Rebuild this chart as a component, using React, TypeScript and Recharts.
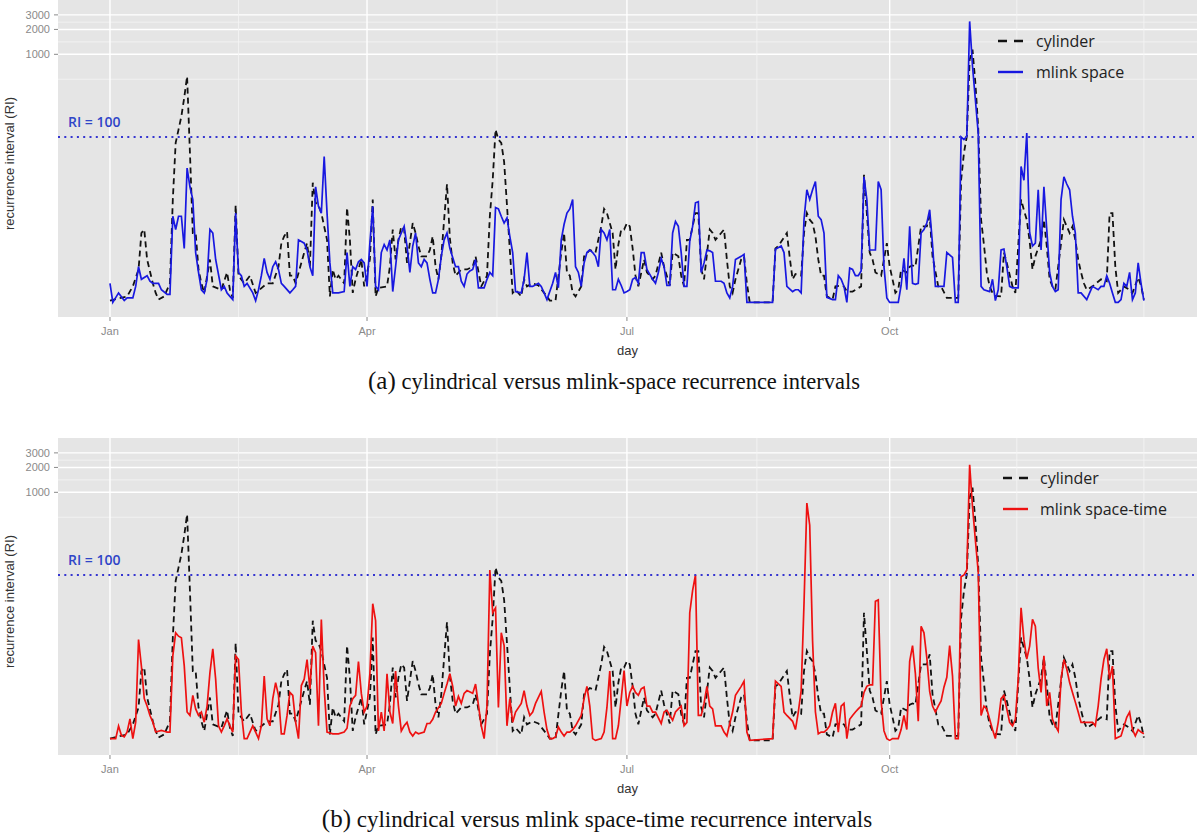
import React from 'react';
import { LineChart, Line, XAxis, YAxis, CartesianGrid, ReferenceLine, Legend } from 'recharts';

// ---------- axis ticks / labels ----------
const monthTicks = [0, 90, 181, 273];
const monthLabels = ['Jan', 'Apr', 'Jul', 'Oct'];
const dayMinorLines = [45, 135.5, 226.5, 317.5, 362];
const riTicks = [1000, 2000, 3000];
const riMinorLines = [500, 1414, 2450];
const riThreshold = 100;

// ---------- cylinder recurrence intervals (day of year, RI) ----------
const cylinderDays = [
  0, 6, 8, 10, 11, 12, 13, 15, 16, 17,
  19, 21, 22, 23, 24, 25, 26, 27, 28, 29,
  30, 31, 32, 33, 35, 36, 39, 41, 42, 43,
  44, 45, 47, 49, 51, 55, 57, 59, 60, 61,
  62, 63, 64, 65, 68, 69, 70, 71, 72, 73,
  74, 76, 77, 78, 79, 80, 82, 83, 84, 85,
  86, 88, 89, 91, 92, 93, 94, 97, 98, 99,
  100, 101, 102, 103, 104, 106, 107, 108, 109, 111,
  112, 113, 114, 115, 116, 117, 118, 119, 120, 121,
  123, 125, 127, 128, 130, 132, 133, 134, 135, 136,
  137, 138, 139, 140, 141, 142, 144, 145, 146, 148,
  150, 153, 154, 156, 158, 159, 160, 161, 162, 163,
  165, 166, 168, 170, 172, 173, 174, 176, 177, 178,
  179, 180, 181, 182, 183, 184, 185, 187, 188, 189,
  190, 191, 193, 194, 196, 197, 199, 200, 201, 202,
  203, 205, 206, 207, 208, 210, 211, 212, 214, 215,
  216, 217, 218, 219, 221, 222, 223, 224, 232, 233,
  234, 237, 238, 239, 240, 242, 243, 244, 245, 246,
  247, 248, 249, 250, 251, 253, 254, 256, 257, 258,
  260, 263, 264, 265, 266, 267, 268, 270, 271, 272,
  273, 274, 275, 276, 277, 279, 280, 281, 282, 284,
  286, 287, 288, 290, 291, 293, 297, 298, 299, 300,
  301, 302, 303, 304, 305, 306, 307, 308, 309, 310,
  312, 313, 314, 316, 317, 319, 320, 321, 322, 323,
  324, 326, 327, 328, 329, 330, 331, 333, 334, 336,
  337, 338, 339, 340, 341, 342, 344, 347, 349, 350,
  351, 352, 353, 355, 357, 358, 360, 361, 362,
];
const cylinderRI = [
  1.05, 1.18, 1.56, 2.5, 6.9, 7.6, 3.3, 1.7, 1.3, 1.08,
  1.18, 1.7, 17.5, 85, 123, 178, 300, 540, 64, 6.9,
  6.9, 2.5, 1.7, 1.3, 3.3, 1.56, 1.42, 2.3, 1.42, 1.13,
  15, 2.1, 1.7, 2.1, 1.3, 1.7, 1.7, 2.7, 5.2, 6.3,
  7.2, 2.1, 2.1, 1.7, 4.0, 5.2, 2.7, 28, 16, 15,
  12, 5.7, 1.18, 2.5, 1.9, 2.1, 1.7, 14, 5.7, 1.3,
  1.9, 3.3, 1.56, 3.3, 17.5, 1.18, 1.5, 1.56, 2.7, 7.6,
  3.3, 5.7, 8.3, 7.6, 3.0, 9.1, 6.9, 4.8, 3.6, 3.6,
  4.3, 6.3, 2.7, 1.9, 3.6, 10, 27, 6.0, 3.0, 2.1,
  2.5, 2.5, 2.7, 3.6, 1.56, 2.1, 11, 30, 123, 93,
  85, 50, 15, 4.3, 1.3, 1.42, 1.18, 1.9, 1.56, 1.7,
  1.6, 1.18, 1.05, 1.05, 4.0, 6.9, 2.3, 2.1, 1.3, 1.18,
  1.56, 3.6, 4.3, 4.0, 8.3, 13.5, 12, 6.9, 2.5, 5.0,
  7.6, 7.6, 9.1, 8.3, 4.5, 2.1, 1.56, 3.3, 2.3, 2.1,
  1.9, 2.1, 4.0, 2.7, 1.6, 4.0, 3.6, 2.1, 1.56, 5.7,
  5.7, 12, 12, 2.5, 1.9, 7.6, 6.9, 5.7, 6.9, 7.6,
  3.3, 1.56, 1.3, 1.9, 3.3, 3.6, 1.7, 1.0, 1.0, 4.5,
  4.8, 6.9, 3.5, 1.9, 2.2, 2.1, 6.9, 12, 10, 9.1,
  6.3, 3.3, 2.1, 2.1, 1.18, 1.08, 1.56, 1.6, 1.56, 1.35,
  1.35, 1.56, 35, 12, 4.0, 3.3, 2.3, 2.1, 3.3, 5.2,
  2.7, 1.9, 1.3, 1.42, 2.5, 2.3, 2.7, 2.8, 2.7, 8.3,
  8.3, 11, 3.6, 1.56, 1.56, 1.13, 1.13, 30, 64, 102,
  861, 1138, 450, 130, 10, 5.0, 2.3, 1.56, 1.3, 1.2,
  1.18, 4.0, 3.0, 1.56, 1.3, 17.5, 13, 10, 5.5, 2.5,
  3.6, 5.7, 10, 4.8, 1.9, 1.56, 1.42, 5.2, 10, 6.9,
  8.3, 5.7, 3.3, 2.3, 1.7, 1.42, 1.56, 1.9, 1.8, 12,
  12, 2.7, 1.3, 1.56, 1.42, 1.3, 2.0, 1.6, 1.08,
];

// ---------- mlink space recurrence intervals ----------
const spaceDays = [
  0, 1, 3, 5, 6, 8, 9, 10, 11, 13,
  14, 15, 17, 18, 20, 21, 22, 23, 24, 25,
  26, 27, 28, 29, 30, 31, 32, 33, 34, 35,
  36, 37, 39, 40, 41, 42, 43, 44, 45, 46,
  47, 48, 50, 51, 52, 53, 54, 55, 56, 57,
  58, 59, 60, 61, 63, 64, 65, 66, 68, 69,
  70, 71, 72, 73, 74, 75, 76, 77, 78, 79,
  80, 82, 83, 84, 85, 86, 87, 88, 89, 90,
  91, 92, 93, 94, 95, 96, 97, 98, 99, 100,
  101, 102, 103, 104, 105, 106, 107, 108, 109, 110,
  111, 112, 113, 114, 115, 116, 117, 118, 119, 121,
  122, 123, 124, 125, 126, 127, 128, 129, 131, 132,
  133, 134, 135, 136, 137, 138, 139, 140, 141, 142,
  144, 145, 146, 147, 148, 150, 151, 152, 153, 155,
  156, 157, 158, 159, 160, 161, 162, 163, 164, 165,
  166, 167, 168, 169, 170, 171, 172, 173, 174, 175,
  176, 177, 178, 179, 180, 181, 182, 183, 184, 185,
  186, 187, 188, 190, 191, 192, 193, 194, 195, 196,
  197, 198, 199, 200, 201, 202, 203, 204, 205, 206,
  207, 208, 209, 210, 211, 212, 214, 215, 216, 217,
  218, 219, 221, 222, 223, 232, 233, 235, 236, 237,
  239, 240, 241, 242, 243, 244, 245, 246, 247, 248,
  249, 250, 251, 253, 254, 255, 256, 257, 258, 259,
  260, 261, 262, 263, 264, 265, 266, 267, 268, 269,
  270, 271, 272, 273, 276, 277, 278, 279, 280, 281,
  282, 283, 284, 285, 286, 287, 288, 289, 292, 293,
  295, 296, 297, 298, 299, 300, 301, 302, 303, 304,
  305, 306, 308, 309, 310, 311, 312, 313, 314, 315,
  316, 318, 319, 320, 321, 322, 323, 324, 325, 326,
  327, 328, 329, 330, 331, 332, 333, 334, 335, 336,
  337, 338, 339, 340, 342, 343, 344, 346, 347, 348,
  349, 350, 351, 352, 353, 354, 355, 356, 357, 358,
  359, 360, 361, 362,
];
const spaceRI = [
  1.7, 1.0, 1.3, 1.05, 1.13, 1.13, 1.56, 2.7, 1.9, 2.1,
  1.8, 1.7, 1.7, 1.42, 1.25, 1.25, 11, 7.6, 11, 11,
  4.5, 42, 25, 17.5, 4.0, 2.3, 1.42, 1.3, 1.9, 7.6,
  6.9, 3.3, 1.42, 1.56, 1.3, 1.18, 1.08, 12, 2.3, 2.1,
  1.56, 1.7, 1.3, 1.05, 1.42, 2.1, 3.4, 2.3, 1.9, 2.7,
  3.1, 2.5, 1.7, 1.56, 1.3, 1.42, 1.56, 5.7, 5.2, 4.3,
  2.7, 2.1, 25, 14.5, 12, 58, 12, 3.0, 1.3, 1.3,
  1.3, 1.35, 4.0, 1.56, 2.7, 2.5, 3.1, 3.3, 3.0, 1.56,
  5.2, 14.5, 1.56, 1.42, 4.0, 5.0, 4.3, 5.7, 1.35, 2.7,
  5.7, 6.9, 8.3, 4.8, 2.3, 4.8, 6.9, 3.0, 2.7, 3.3,
  3.0, 1.9, 1.3, 1.3, 1.9, 3.6, 5.7, 6.9, 4.5, 2.7,
  2.7, 1.8, 1.56, 2.2, 2.4, 2.5, 3.3, 1.5, 1.5, 1.9,
  2.3, 2.1, 14, 13.5, 11, 9.1, 10.5, 6.3, 4.0, 1.35,
  1.3, 1.9, 4.0, 1.56, 1.56, 1.7, 1.56, 1.3, 1.08, 1.7,
  2.3, 1.5, 5.7, 8.8, 12, 13.5, 17.5, 2.7, 2.3, 1.56,
  3.0, 4.0, 4.3, 4.0, 3.6, 2.7, 7.6, 6.9, 5.7, 7.6,
  1.42, 1.42, 1.9, 1.6, 1.3, 1.35, 1.42, 1.9, 2.0, 1.7,
  4.0, 4.0, 2.5, 1.9, 1.7, 2.3, 3.4, 2.7, 1.6, 1.6,
  6.9, 9.5, 8.3, 4.0, 1.56, 1.56, 5.5, 8.3, 16, 16.5,
  2.3, 3.0, 4.3, 4.2, 4.0, 1.8, 1.8, 1.7, 1.3, 1.13,
  1.56, 3.3, 3.6, 3.8, 1.0, 1.0, 4.4, 4.8, 4.0, 1.56,
  1.35, 1.42, 1.42, 1.3, 10, 23, 17.5, 23, 29, 11,
  10, 6.9, 1.15, 1.08, 1.08, 2.1, 1.9, 1.56, 1.0, 2.6,
  2.5, 2.1, 2.1, 2.4, 33, 17.5, 4.3, 4.3, 4.3, 29,
  23, 2.7, 1.13, 1.0, 1.0, 1.6, 3.4, 1.42, 8.3, 1.7,
  1.65, 1.7, 6.9, 7.6, 9.1, 13.2, 5.0, 1.56, 1.56, 4.0,
  3.5, 1.0, 1.0, 100, 93, 102, 2500, 716, 283, 112,
  1.56, 1.42, 1.35, 1.9, 1.05, 1.42, 4.3, 4.4, 2.7, 1.56,
  1.5, 1.5, 44, 30, 112, 7, 4.8, 5.2, 23, 4.3,
  25, 7.6, 2.3, 1.56, 1.35, 1.42, 17.5, 33, 27, 23,
  11, 6.9, 1.3, 1.3, 1.08, 1.3, 1.56, 1.42, 1.56, 1.56,
  2.1, 1.7, 1.3, 1.0, 1.0, 1.08, 1.7, 1.56, 2.3, 1.08,
  1.3, 3.0, 1.7, 1.05,
];

// ---------- mlink space-time recurrence intervals ----------
const spaceTimeDays = [
  0, 2, 3, 4, 5, 6, 7, 8, 9, 10,
  11, 12, 13, 14, 15, 16, 18, 19, 20, 21,
  22, 23, 24, 25, 26, 27, 28, 29, 30, 31,
  32, 33, 34, 35, 36, 37, 38, 39, 40, 41,
  42, 43, 44, 45, 46, 47, 48, 49, 50, 51,
  52, 53, 54, 55, 56, 57, 58, 59, 60, 61,
  62, 63, 64, 65, 66, 67, 68, 69, 70, 71,
  72, 73, 74, 75, 76, 78, 80, 82, 83, 84,
  85, 86, 87, 88, 89, 90, 91, 92, 93, 94,
  95, 96, 97, 98, 99, 100, 101, 102, 103, 104,
  105, 106, 107, 108, 110, 111, 112, 113, 114, 116,
  117, 118, 119, 120, 121, 122, 123, 124, 125, 127,
  128, 130, 131, 132, 133, 134, 135, 136, 137, 138,
  139, 140, 141, 142, 144, 145, 146, 147, 148, 149,
  151, 152, 153, 154, 155, 156, 157, 158, 159, 160,
  161, 162, 163, 165, 166, 167, 168, 169, 170, 172,
  173, 174, 175, 176, 177, 178, 179, 180, 181, 182,
  183, 184, 185, 186, 187, 188, 189, 190, 191, 193,
  194, 195, 196, 197, 198, 199, 200, 201, 202, 203,
  204, 205, 206, 207, 208, 209, 210, 211, 212, 214,
  215, 216, 217, 218, 219, 221, 222, 223, 224, 232,
  233, 235, 236, 237, 239, 240, 241, 242, 243, 244,
  245, 246, 247, 248, 249, 250, 251, 252, 253, 254,
  255, 256, 257, 258, 259, 260, 261, 262, 263, 264,
  265, 266, 267, 268, 269, 270, 271, 272, 273, 274,
  276, 277, 278, 279, 280, 281, 282, 283, 284, 285,
  286, 287, 288, 289, 290, 291, 292, 293, 294, 295,
  296, 297, 298, 299, 300, 301, 302, 303, 304, 305,
  306, 307, 308, 309, 310, 311, 312, 313, 314, 315,
  316, 317, 318, 319, 320, 321, 322, 323, 324, 325,
  326, 327, 328, 329, 330, 331, 332, 333, 334, 335,
  336, 337, 338, 339, 340, 342, 344, 345, 346, 347,
  348, 349, 350, 351, 352, 354, 356, 357, 358, 359,
  360, 361, 362,
];
const spaceTimeRI = [
  1.05, 1.05, 1.49, 1.15, 1.1, 1.26, 1.82, 1.05, 1.66, 16.6,
  7.9, 3.2, 2.6, 2.0, 1.66, 1.26, 1.32, 1.29, 1.26, 1.26,
  10.5, 20, 18.2, 17.4, 8, 2.2, 2.0, 3.5, 2.4, 2.0,
  2.2, 1.66, 2.6, 6.6, 12.8, 5.5, 1.5, 1.26, 1.5, 1.82,
  1.5, 1.26, 10.5, 9.5, 2.2, 1.05, 1.05, 1.26, 1.5, 1.26,
  1.05, 1.5, 6.0, 1.82, 1.5, 3.2, 5.0, 3.5, 1.2, 1.2,
  2.0, 3.8, 3.5, 1.66, 1.05, 4.6, 5.5, 9.5, 4.2, 13.8,
  11.5, 1.5, 29, 4.2, 1.26, 1.2, 1.2, 1.26, 1.4, 2.6,
  3.2, 3.5, 9, 3.7, 2.2, 2.6, 6.4, 45, 28, 1.3,
  2.2, 1.3, 6.4, 2.2, 1.6, 6.9, 2.6, 1.3, 1.5, 1.65,
  1.26, 1.13, 1.26, 1.2, 1.26, 1.6, 1.6, 1.8, 2.2, 2.8,
  3.7, 4.8, 6.4, 4.5, 2.6, 3.4, 2.8, 3.7, 4.0, 3.7,
  4.8, 1.5, 1.05, 2.6, 115, 35, 40, 2.5, 20, 14,
  1.5, 3.2, 1.65, 2.2, 2.8, 4.0, 2.6, 2.0, 2.2, 2.8,
  3.9, 2.2, 1.35, 1.05, 1.05, 1.1, 1.45, 1.26, 1.13, 1.26,
  1.26, 1.35, 1.5, 2.0, 3.2, 4.5, 2.6, 1.05, 1.0, 1.05,
  1.26, 2.5, 6.9, 1.05, 1.05, 1.5, 3.2, 7.0, 2.6, 3.8,
  4.5, 3.8, 3.5, 4.2, 4.4, 2.6, 2.6, 2.2, 2.2, 1.6,
  2.2, 2.3, 2.0, 1.75, 2.2, 2.4, 2.6, 1.5, 1.65, 35,
  65, 100, 2.0, 2.0, 2.8, 4.5, 2.6, 2.4, 1.5, 1.5,
  1.26, 1.13, 1.6, 2.2, 3.5, 4.5, 5.2, 1.26, 1.0, 1.05,
  5.2, 4.5, 2.2, 2.0, 1.7, 1.35, 2.2, 4.0, 45, 740,
  400, 16, 2.2, 1.2, 1.26, 1.26, 1.35, 1.5, 2.2, 2.8,
  1.26, 2.6, 2.8, 1.05, 1.8, 2.0, 2.2, 2.4, 2.6, 3.8,
  4.5, 4.7, 4.7, 48, 50, 3.0, 1.3, 1.05, 1.0, 1.05,
  1.05, 1.35, 2.0, 1.35, 9, 14, 6.4, 1.7, 24, 20,
  10, 3.9, 2.6, 2.2, 2.6, 3.0, 4.4, 5.8, 14, 6,
  1.05, 1.05, 95, 100, 115, 2150, 670, 265, 110, 2.0,
  2.6, 2.4, 1.8, 1.35, 1.05, 1.65, 3.2, 3.5, 2.4, 1.65,
  1.5, 1.8, 5.5, 40, 16.5, 9.6, 13.8, 29, 24, 7.5,
  3.8, 10.5, 2.6, 3.8, 1.8, 1.5, 1.3, 5.5, 9.5, 7.3,
  5.0, 3.8, 2.9, 2.2, 1.65, 1.65, 1.65, 1.5, 2.6, 5.5,
  9.5, 12.8, 5.5, 7.9, 1.05, 1.13, 1.9, 2.2, 1.35, 1.13,
  1.35, 1.26, 1.2,
];

// ---------- helpers ----------
const toRows = (days: number[], values: number[]) =>
  days.map((day, i) => ({ day, ri: values[i] }));

const dayDomain: [number, number] = [-18.2, 380.6];
const riDomain: [number, number] = [0.665, 4540];

const SANS = "'Liberation Sans', Arial, sans-serif";
const LEGEND_FONT = "'Open Sans', 'Liberation Sans', sans-serif";
const SERIF = "'Liberation Serif', 'DejaVu Serif', serif";
const TICK_GREY = '#8a8a8a';

const YTitle = (props: any) => {
  const vb = props.viewBox || {};
  const cx = (vb.x || 0) + 9;
  const cy = (vb.y || 0) + (vb.height || 0) / 2 + 5;
  return (
    <text x={cx} y={cy} transform={`rotate(-90 ${cx} ${cy})`} textAnchor="middle"
      dominantBaseline="central" fontSize={13} fontFamily={SANS} fill="#333">
      recurrence interval (RI)
    </text>
  );
};

const XTitle = (props: any) => {
  const vb = props.viewBox || {};
  return (
    <text x={(vb.x || 0) + (vb.width || 0) / 2} y={(vb.y || 0) + 33} textAnchor="middle"
      dominantBaseline="central" fontSize={13} fontFamily={SANS} fill="#333">
      day
    </text>
  );
};

const RILabel = (props: any) => {
  const vb = props.viewBox || {};
  return (
    <text x={(vb.x || 0) + 10} y={(vb.y || 0) - 15} dominantBaseline="central"
      fontSize={14} fontWeight={600} fontFamily={LEGEND_FONT} fill="#2F45C8">
      RI = 100
    </text>
  );
};

const makeLegend = (color: string, label: string, textX: number, rowGap: number) => () => (
  <svg width={220} height={64} style={{ display: 'block' }}>
    <line x1={2} x2={27} y1={14} y2={14} stroke="#111" strokeWidth={2.4} strokeDasharray="9 7" />
    <text x={textX} y={14} dominantBaseline="central" fontSize={16} fontFamily={LEGEND_FONT} fill="#222">
      cylinder
    </text>
    <line x1={2} x2={27} y1={14 + rowGap} y2={14 + rowGap} stroke={color} strokeWidth={2.4} />
    <text x={textX} y={14 + rowGap} dominantBaseline="central" fontSize={16} fontFamily={LEGEND_FONT} fill="#222">
      {label}
    </text>
  </svg>
);

type PanelProps = {
  top: number;
  days: number[];
  values: number[];
  color: string;
  label: string;
  legendLeft: number;
  legendTop: number;
  legendTextX: number;
};

function Panel({ top, days, values, color, label, legendLeft, legendTop, legendTextX }: PanelProps) {
  const cylinderRows = toRows(cylinderDays, cylinderRI);
  const seriesRows = toRows(days, values);
  return (
    <div style={{ position: 'absolute', left: 0, top, width: 1200, height: 362 }}>
      <LineChart width={1200} height={362} margin={{ top: 0, right: 3, bottom: 0, left: 0 }}>
        <CartesianGrid fill="#E5E5E5" fillOpacity={1} stroke="none" horizontal={false} vertical={false} />
        {riMinorLines.map((v) => (
          <ReferenceLine key={`ry${v}`} y={v} stroke="#F4F4F4" strokeWidth={0.8} />
        ))}
        {riTicks.map((v) => (
          <ReferenceLine key={`my${v}`} y={v} stroke="#FFFFFF" strokeWidth={1.4} />
        ))}
        {dayMinorLines.map((v) => (
          <ReferenceLine key={`rx${v}`} x={v} stroke="#F4F4F4" strokeWidth={0.8} />
        ))}
        {monthTicks.map((v) => (
          <ReferenceLine key={`mx${v}`} x={v} stroke="#FFFFFF" strokeWidth={1.4} />
        ))}
        <XAxis
          type="number"
          dataKey="day"
          domain={dayDomain}
          allowDataOverflow
          ticks={monthTicks}
          interval={0}
          tickFormatter={(v: number) => monthLabels[monthTicks.indexOf(v)] ?? ''}
          axisLine={false}
          tickLine={{ stroke: TICK_GREY }}
          tickSize={4}
          tickMargin={6}
          tick={{ fill: TICK_GREY, fontSize: 11, fontFamily: SANS }}
          height={45}
          label={{ content: XTitle }}
        />
        <YAxis
          type="number"
          scale="log"
          domain={riDomain}
          allowDataOverflow
          ticks={riTicks}
          interval={0}
          tickFormatter={(v: number) => String(v)}
          axisLine={false}
          tickLine={{ stroke: TICK_GREY }}
          tickSize={4}
          tickMargin={4}
          tick={{ fill: TICK_GREY, fontSize: 11, fontFamily: SANS }}
          width={58}
          label={{ content: YTitle }}
        />
        <Line
          data={cylinderRows}
          dataKey="ri"
          type="linear"
          stroke="#111111"
          strokeWidth={1.8}
          strokeDasharray="6 4"
          dot={false}
          activeDot={false}
          isAnimationActive={false}
        />
        <Line
          data={seriesRows}
          dataKey="ri"
          type="linear"
          stroke={color}
          strokeWidth={1.7}
          dot={false}
          activeDot={false}
          isAnimationActive={false}
        />
        <ReferenceLine
          y={riThreshold}
          stroke="#3535D0"
          strokeWidth={2}
          strokeDasharray="2 4.3"
          label={{ content: RILabel }}
        />
        <Legend
          layout="horizontal"
          verticalAlign="middle"
          align="center"
          content={makeLegend(color, label, legendTextX, 31)}
          wrapperStyle={{ left: legendLeft, top: legendTop, width: 220, height: 64 }}
        />
      </LineChart>
    </div>
  );
}

export default function App() {
  return (
    <div style={{ position: 'absolute', left: 0, top: 0, width: 1200, height: 833, background: '#fff', overflow: 'hidden' }}>
      <Panel top={0} days={spaceDays} values={spaceRI} color="#1818E0" label="mlink space"
        legendLeft={996} legendTop={27} legendTextX={40} />
      <div style={{ position: 'absolute', left: 14, top: 366, width: 1200, textAlign: 'center', fontFamily: SERIF, fontSize: 22.5, lineHeight: '30px', color: '#111' }}>
        <span style={{ fontSize: 25 }}>(a)</span> cylindrical versus mlink-space recurrence intervals
      </div>
      <Panel top={438} days={spaceTimeDays} values={spaceTimeRI} color="#EE1111" label="mlink space-time"
        legendLeft={1001} legendTop={26} legendTextX={39} />
      <div style={{ position: 'absolute', left: -3, top: 804, width: 1200, textAlign: 'center', fontFamily: SERIF, fontSize: 23, lineHeight: '30px', color: '#111' }}>
        <span style={{ fontSize: 25 }}>(b)</span> cylindrical versus mlink space-time recurrence intervals
      </div>
    </div>
  );
}
